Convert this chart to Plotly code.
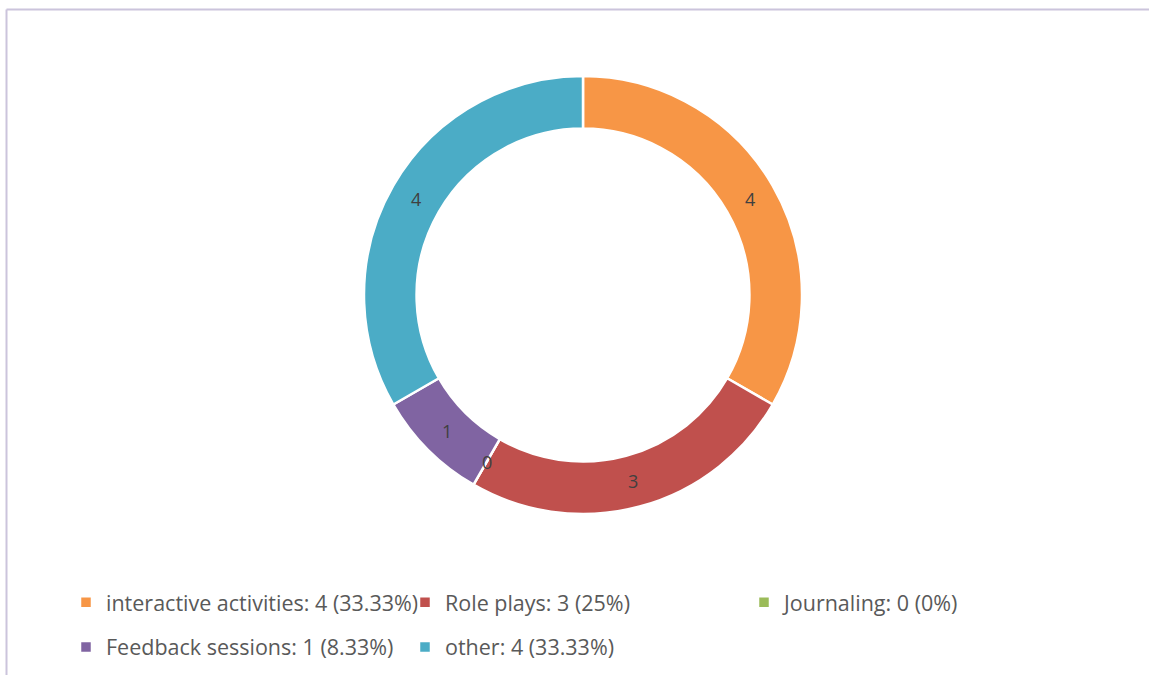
import math
import plotly.graph_objects as go

categories = ["interactive activities", "Role plays", "Journaling", "Feedback sessions", "other"]
values = [4, 3, 0, 1, 4]
colors = ["#F79646", "#C0504D", "#9BBB59", "#8064A2", "#4BACC6"]

W, H = 1149, 675
cx, cy, R = 583, 295, 219
hole = 0.76

total = sum(values)
legend_text = [f"{c}: {v} ({round(v / total * 100, 2):g}%)" for c, v in zip(categories, values)]
legend_labels = [f'<span style="font-size:21.5px;baseline-shift:4px">{t}</span>' for t in legend_text]

fig = go.Figure()
fig.add_trace(go.Pie(
    labels=legend_labels,
    values=values,
    textinfo="none",
    marker=dict(colors=colors, line=dict(color="white", width=2.5)),
    hole=hole,
    sort=False,
    direction="clockwise",
    rotation=0,
    hovertext=legend_text,
    hoverinfo="text",
    domain=dict(x=[(cx - R) / W, (cx + R) / W], y=[(H - cy - R) / H, (H - cy + R) / H]),
))

# data labels at the middle of each slice, on the middle of the ring
annotations = []
cum = 0
rmid = R * (1 + hole) / 2
for v in values:
    ang = 2 * math.pi * (cum + v / 2) / total
    x = cx + rmid * math.sin(ang)
    y = cy - rmid * math.cos(ang)
    annotations.append(dict(x=x / W, y=1 - y / H, xref="paper", yref="paper",
                            xanchor="center", yanchor="middle",
                            text=str(v), showarrow=False,
                            font=dict(family="Open Sans", size=18, color="#404040")))
    cum += v

frame = "#CBC4DC"
shapes = [
    dict(type="line", xref="paper", yref="paper", x0=6.5 / W, x1=1, y0=1 - 9.5 / H, y1=1 - 9.5 / H,
         line=dict(color=frame, width=2)),
    dict(type="line", xref="paper", yref="paper", x0=6.5 / W, x1=6.5 / W, y0=0, y1=1 - 9.5 / H,
         line=dict(color=frame, width=2)),
]

fig.update_layout(
    width=W, height=H, autosize=False,
    margin=dict(l=0, r=0, t=0, b=0),
    paper_bgcolor="white", plot_bgcolor="white",
    font=dict(family="Open Sans", color="#595959"),
    showlegend=True,
    legend=dict(orientation="h", x=66 / W, xanchor="left", y=0, yanchor="bottom",
                font=dict(family="Open Sans", size=32, color="#595959"),
                entrywidth=294, itemwidth=30, traceorder="normal"),
    annotations=annotations,
    shapes=shapes,
)

fig.write_html("out.html", config={"displayModeBar": False},
               post_script="document.body.style.margin='0';")
